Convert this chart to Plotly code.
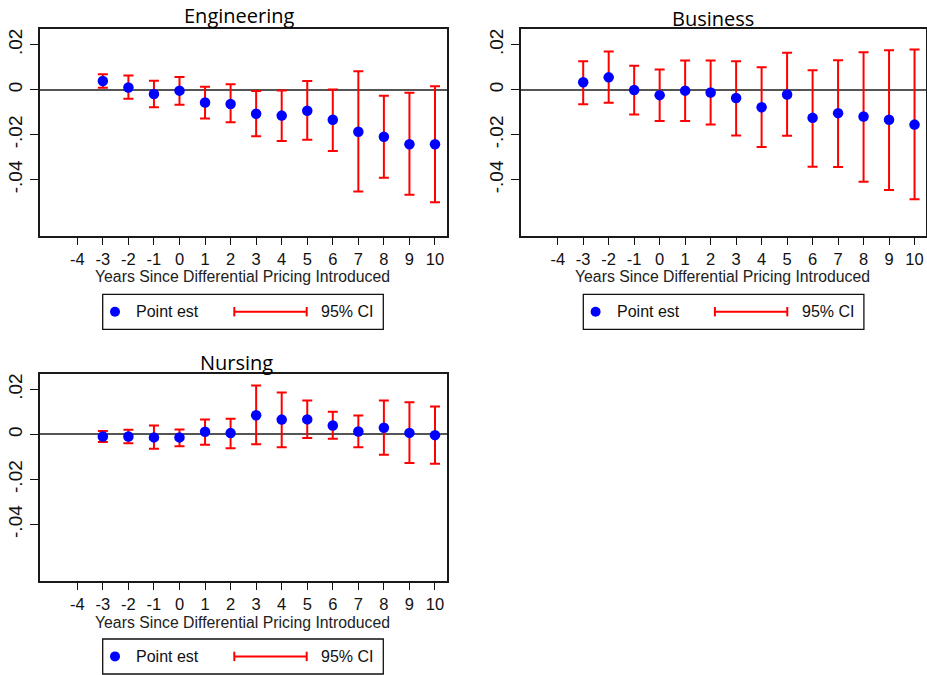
import numpy as np
import plotly.graph_objects as go

# ---------------- data ----------------
years = [-3, -2, -1, 0, 1, 2, 3, 4, 5, 6, 7, 8, 9, 10]
xtick_vals = [-4, -3, -2, -1, 0, 1, 2, 3, 4, 5, 6, 7, 8, 9, 10]
xtick_text = ["-4", "-3", "-2", "-1", "0", "1", "2", "3", "4", "5", "6", "7", "8", "9", "10"]
ytick_vals = [-0.04, -0.02, 0, 0.02]
ytick_text = ["-.04", "-.02", "0", ".02"]

eng_pt = [0.0039, 0.0010, -0.0019, -0.0004, -0.0057, -0.0063, -0.0107, -0.0115, -0.0093, -0.0133, -0.0187, -0.0209, -0.0242, -0.0242]
eng_lo = [0.0009, -0.0040, -0.0078, -0.0067, -0.0128, -0.0145, -0.0207, -0.0228, -0.0222, -0.0272, -0.0452, -0.0391, -0.0467, -0.0500]
eng_hi = [0.0069, 0.0063, 0.0040, 0.0057, 0.0013, 0.0024, -0.0006, -0.0003, 0.0039, 0.0001, 0.0082, -0.0027, -0.0013, 0.0015]

bus_pt = [0.0033, 0.0055, -0.0001, -0.0024, -0.0004, -0.0012, -0.0037, -0.0078, -0.0021, -0.0125, -0.0104, -0.0119, -0.0133, -0.0155]
bus_lo = [-0.0064, -0.0058, -0.0110, -0.0139, -0.0139, -0.0155, -0.0203, -0.0255, -0.0204, -0.0342, -0.0343, -0.0409, -0.0446, -0.0487]
bus_hi = [0.0127, 0.0170, 0.0107, 0.0090, 0.0130, 0.0130, 0.0127, 0.0100, 0.0164, 0.0087, 0.0131, 0.0167, 0.0176, 0.0179]

nur_pt = [-0.0009, -0.0009, -0.0013, -0.0013, 0.0012, 0.0006, 0.0085, 0.0066, 0.0067, 0.0040, 0.0013, 0.0030, 0.0007, -0.0003]
nur_lo = [-0.0033, -0.0039, -0.0064, -0.0052, -0.0046, -0.0061, -0.0043, -0.0057, -0.0016, -0.0019, -0.0057, -0.0090, -0.0127, -0.0130]
nur_hi = [0.0015, 0.0021, 0.0040, 0.0022, 0.0067, 0.0070, 0.0218, 0.0187, 0.0151, 0.0101, 0.0084, 0.0151, 0.0143, 0.0124]

panel_titles = ["Engineering", "Business", "Nursing"]
xaxis_title = "Years Since Differential Pricing Introduced"
legend_labels = ["Point est", "95% CI"]

# ---------------- layout helpers ----------------
W, H = 927, 675


def px(x):
    return x / W


def py(y):
    return 1 - y / H


BLUE = "#0000FF"
RED = "#FF0000"
TICKFONT = "Liberation Sans, Arial, sans-serif"
TITLEFONT = "Open Sans, sans-serif"

# panel boxes in page pixels: (left, right, top, bottom)
panels = [
    dict(box=(40, 447, 29, 236), pt=eng_pt, lo=eng_lo, hi=eng_hi,
         title=(239, 16), xtitle_y=276, legend_dx=0, legend_dy=0, xr=[-5.46, 10.47]),
    dict(box=(520.5, 925.5, 29, 236), pt=bus_pt, lo=bus_lo, hi=bus_hi,
         title=(713, 19), xtitle_y=276, legend_dx=480.6, legend_dy=0, xr=[-5.46, 10.43]),
    dict(box=(40, 447, 373.7, 580.7), pt=nur_pt, lo=nur_lo, hi=nur_hi,
         title=(236, 362), xtitle_y=622, legend_dx=0, legend_dy=344.7, xr=[-5.46, 10.47]),
]

fig = go.Figure()
shapes = []
annotations = []

for i, p in enumerate(panels):
    n = "" if i == 0 else str(i + 1)
    pt = np.array(p["pt"])
    lo = np.array(p["lo"])
    hi = np.array(p["hi"])
    fig.add_trace(go.Scatter(
        x=years, y=pt, mode="markers",
        marker=dict(color=BLUE, size=10.5, line=dict(width=0)),
        error_y=dict(type="data", symmetric=False, array=hi - pt, arrayminus=pt - lo,
                     color=RED, thickness=2, width=5),
        xaxis="x" + n, yaxis="y" + n, showlegend=False,
        name=panel_titles[i],
    ))
    l, r, t, b = p["box"]
    fig.update_layout(**{
        "xaxis" + n: dict(
            domain=[px(l), px(r)], range=p["xr"], anchor="y" + n,
            tickvals=xtick_vals, ticktext=xtick_text,
            ticks="outside", ticklen=7, tickwidth=1.4, tickcolor="#111",
            showline=True, linecolor="#1a1a1a", linewidth=2, mirror=True,
            showgrid=False, zeroline=False,
            tickfont=dict(family=TICKFONT, size=16.5, color="#111"),
        ),
        "yaxis" + n: dict(
            domain=[py(b), py(t)], range=[-0.065, 0.027], anchor="x" + n,
            tickvals=ytick_vals, ticktext=ytick_text, tickangle=-90,
            ticks="outside", ticklen=8, tickwidth=1.4, tickcolor="#111",
            showline=True, linecolor="#1a1a1a", linewidth=2, mirror=True,
            showgrid=False, zeroline=True, zerolinecolor="#555", zerolinewidth=2,
            tickfont=dict(family=TICKFONT, size=19, color="#111"),
        ),
    })
    # panel title
    annotations.append(dict(
        text=panel_titles[i], x=px(p["title"][0]), y=py(p["title"][1]),
        xref="paper", yref="paper", xanchor="center", yanchor="middle",
        showarrow=False, font=dict(family=TITLEFONT, size=20, color="#000"),
    ))
    # x-axis title
    annotations.append(dict(
        text=xaxis_title, x=px((l + r) / 2 - 1), y=py(p["xtitle_y"]),
        xref="paper", yref="paper", xanchor="center", yanchor="middle",
        showarrow=False, font=dict(family=TICKFONT, size=15.8, color="#222"),
    ))
    # legend box
    dx, dy = p["legend_dx"], p["legend_dy"]
    shapes.append(dict(type="rect", xref="paper", yref="paper",
                       x0=px(102.7 + dx), x1=px(383.3 + dx),
                       y0=py(329.3 + dy), y1=py(294.3 + dy),
                       line=dict(color="#111", width=1.3), fillcolor="white"))
    cy = 311.7 + dy
    shapes.append(dict(type="circle", xref="paper", yref="paper",
                       x0=px(110 + dx), x1=px(120 + dx), y0=py(cy + 5), y1=py(cy - 5),
                       line=dict(width=0), fillcolor=BLUE))
    shapes.append(dict(type="line", xref="paper", yref="paper",
                       x0=px(234.3 + dx), x1=px(306.7 + dx), y0=py(cy), y1=py(cy),
                       line=dict(color=RED, width=2)))
    for cx in (234.3, 306.7):
        shapes.append(dict(type="line", xref="paper", yref="paper",
                           x0=px(cx + dx), x1=px(cx + dx), y0=py(cy - 4.7), y1=py(cy + 4.7),
                           line=dict(color=RED, width=2)))
    annotations.append(dict(
        text=legend_labels[0], x=px(134 + dx), y=py(cy), xref="paper", yref="paper",
        xanchor="left", yanchor="middle", showarrow=False,
        font=dict(family=TICKFONT, size=16, color="#111"),
    ))
    annotations.append(dict(
        text=legend_labels[1], x=px(319 + dx), y=py(cy), xref="paper", yref="paper",
        xanchor="left", yanchor="middle", showarrow=False,
        font=dict(family=TICKFONT, size=16, color="#111"),
    ))

fig.update_layout(
    width=W, height=H, margin=dict(l=0, r=0, t=0, b=0),
    paper_bgcolor="white", plot_bgcolor="white",
    shapes=shapes, annotations=annotations, showlegend=False,
)

# remove the page's default 8px body margin so the figure fills the window exactly
fig.write_html(
    "out.html",
    config={"displayModeBar": False},
    post_script="document.body.style.margin='0';document.body.style.overflow='hidden';",
)
